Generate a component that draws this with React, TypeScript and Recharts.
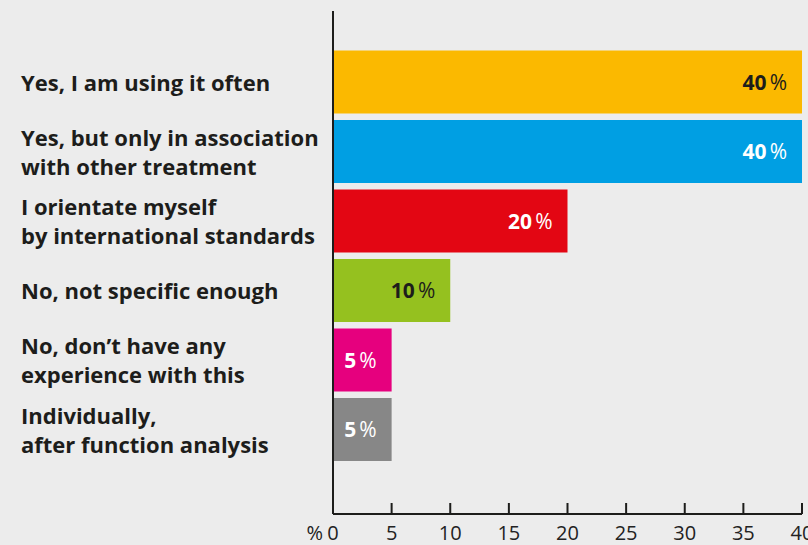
import { Bar, BarChart, Cell, LabelList, XAxis, YAxis } from "recharts";

const categories = [
  "Yes, I am using it often",
  "Yes, but only in association\nwith other treatment",
  "I orientate myself\nby international standards",
  "No, not specific enough",
  "No, don’t have any\nexperience with this",
  "Individually,\nafter function analysis",
];
const shares = [40, 40, 20, 10, 5, 5];
const xTicks = [0, 5, 10, 15, 20, 25, 30, 35, 40];

const BAR_COLORS = ["#fbb900", "#009fe3", "#e30613", "#95c11f", "#e6007e", "#878787"];
const VALUE_COLORS = ["#1d1d1b", "#ffffff", "#ffffff", "#1d1d1b", "#ffffff", "#ffffff"];
const INK = "#1d1d1b";
const FONT = "'Open Sans', sans-serif";

const data = categories.map((name, i) => ({ name, value: shares[i] }));

function CategoryTick({ y, payload }: any) {
  const lines = String(payload.value).split("\n");
  const lh = 29;
  const y0 = y - ((lines.length - 1) * lh) / 2;
  return (
    <text
      x={21}
      y={y0}
      fill={INK}
      fontFamily={FONT}
      fontSize={22}
      fontWeight={700}
      textAnchor="start"
      dominantBaseline="central"
    >
      {lines.map((l, i) => (
        <tspan key={i} x={21} y={y0 + i * lh}>
          {l}
        </tspan>
      ))}
    </text>
  );
}

function ValueLabel({ x, y, width, height, value, index }: any) {
  return (
    <text
      x={x + width - 15}
      y={y + height / 2}
      fill={VALUE_COLORS[index]}
      fontFamily={FONT}
      fontSize={21}
      fontWeight={700}
      textAnchor="end"
      dominantBaseline="central"
    >
      {value}
      <tspan fontWeight={400} dx={3}>
        %
      </tspan>
    </text>
  );
}

export default function App() {
  return (
    <div
      style={{
        position: "absolute",
        left: 0,
        top: 0,
        width: 808,
        height: 545,
        background: "#ececec",
      }}
    >
      <BarChart
        width={808}
        height={545}
        data={data}
        layout="vertical"
        margin={{ top: 11, right: 6, bottom: 0, left: 0 }}
        barCategoryGap="5%"
      >
        <XAxis
          type="number"
          domain={[0, 40]}
          ticks={xTicks}
          interval={0}
          height={31}
          axisLine={{ stroke: INK, strokeWidth: 2 }}
          tickLine={{ stroke: INK, strokeWidth: 2 }}
          tickSize={-11}
          tickMargin={23}
          tick={{ fill: "#222", fontSize: 20, fontFamily: FONT }}
          label={{
            value: "%",
            position: "left",
            offset: 10,
            dy: 3,
            fill: "#222",
            fontSize: 20,
            fontFamily: FONT,
          }}
        />
        <YAxis
          type="category"
          dataKey="name"
          width={333}
          padding={{ top: 36, bottom: 50 }}
          axisLine={{ stroke: INK, strokeWidth: 2 }}
          tickLine={false}
          interval={0}
          tick={<CategoryTick />}
        />
        <Bar dataKey="value" isAnimationActive={false}>
          {data.map((_, i) => (
            <Cell key={i} fill={BAR_COLORS[i]} />
          ))}
          <LabelList dataKey="value" content={<ValueLabel />} />
        </Bar>
      </BarChart>
    </div>
  );
}
